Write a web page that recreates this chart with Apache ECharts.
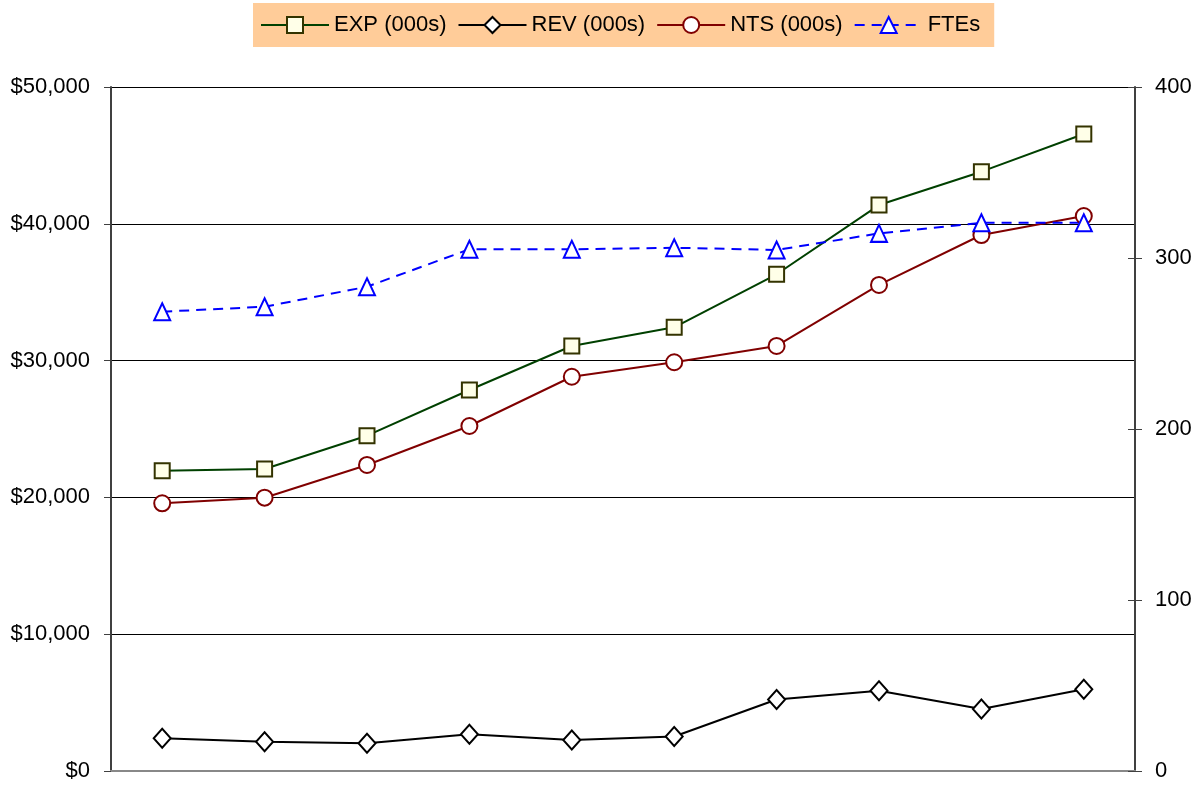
<!DOCTYPE html>
<html>
<head>
<meta charset="utf-8">
<script src="https://cdn.jsdelivr.net/npm/echarts@6/dist/echarts.min.js"></script>
<style>
html,body{margin:0;padding:0;background:#fff;}
#chart{width:1201px;height:788px;}
</style>
</head>
<body>
<div id="chart"></div>
<script>
var categories = ['1','2','3','4','5','6','7','8','9','10'];
var expData = [21950, 22080, 24510, 27850, 31070, 32430, 36310, 41370, 43810, 46560];
var revData = [2390, 2140, 2020, 2680, 2270, 2520, 5230, 5870, 4530, 5970];
var ntsData = [19570, 19980, 22370, 25220, 28820, 29880, 31070, 35530, 39180, 40570];
var fteData = [268.6, 271.5, 283.2, 305.1, 305.1, 306.0, 304.7, 314.4, 320.6, 320.6];
var seriesNames = ['EXP (000s)', 'REV (000s)', 'NTS (000s)', 'FTEs'];

var font = '"Liberation Sans", Arial, sans-serif';
var chart = echarts.init(document.getElementById('chart'));
chart.setOption({
  animation: false,
  backgroundColor: '#ffffff',
  legend: {
    left: 253, top: 3,
    padding: [11, 14, 11, 7],
    backgroundColor: '#FFCC99',
    itemWidth: 68, itemHeight: 20, itemGap: 11,
    textStyle: {fontFamily: font, fontSize: 22, color: '#000'},
    data: seriesNames
  },
  grid: {left: 111, right: 66, top: 87, bottom: 17, containLabel: false},
  xAxis: [{
    type: 'category', data: categories, boundaryGap: true,
    axisLine: {show: true, lineStyle: {color: '#888888', width: 2}},
    axisTick: {show: false}, axisLabel: {show: false}, splitLine: {show: false}
  }, {
    type: 'category', data: categories, position: 'top',
    axisLine: {show: true, lineStyle: {color: '#888888', width: 2}},
    axisTick: {show: false}, axisLabel: {show: false}
  }],
  yAxis: [{
    type: 'value', min: 0, max: 50000, interval: 10000, position: 'left',
    axisLine: {show: true, lineStyle: {color: '#404040', width: 2}},
    axisTick: {show: true, length: 7, lineStyle: {color: '#404040', width: 1}},
    axisLabel: {fontFamily: font, fontSize: 22, color: '#000', margin: 21,
      formatter: function (v) { return '$' + v.toLocaleString('en-US'); }},
    splitLine: {show: true, lineStyle: {color: '#000', width: 1}}
  }, {
    type: 'value', min: 0, max: 400, interval: 100, position: 'right',
    axisLine: {show: true, lineStyle: {color: '#404040', width: 2}},
    axisTick: {show: true, length: 7, lineStyle: {color: '#404040', width: 1}},
    axisLabel: {fontFamily: font, fontSize: 22, color: '#000', margin: 20},
    splitLine: {show: false}
  }, {
    type: 'value', min: 0, max: 400, interval: 100, position: 'right',
    axisLine: {show: false},
    axisTick: {show: true, inside: true, length: 7, lineStyle: {color: '#404040', width: 1}},
    axisLabel: {show: false},
    splitLine: {show: false}
  }],
  series: [{
    name: seriesNames[0], type: 'line', data: expData, yAxisIndex: 0,
    symbol: 'rect', symbolSize: 15,
    lineStyle: {color: '#004000', width: 2},
    itemStyle: {color: '#FFFFE8', borderColor: '#333300', borderWidth: 2}
  }, {
    name: seriesNames[1], type: 'line', data: revData, yAxisIndex: 0,
    symbol: 'diamond', symbolSize: [17, 19],
    lineStyle: {color: '#000000', width: 2},
    itemStyle: {color: '#ffffff', borderColor: '#000000', borderWidth: 2}
  }, {
    name: seriesNames[2], type: 'line', data: ntsData, yAxisIndex: 0,
    symbol: 'circle', symbolSize: 16,
    lineStyle: {color: '#800000', width: 2},
    itemStyle: {color: '#ffffff', borderColor: '#800000', borderWidth: 2}
  }, {
    name: seriesNames[3], type: 'line', data: fteData, yAxisIndex: 1,
    symbol: 'triangle', symbolSize: [16, 17],
    lineStyle: {color: '#0000FF', width: 2, type: [10, 7]},
    itemStyle: {color: '#ffffff', borderColor: '#0000FF', borderWidth: 2}
  }]
});
</script>
</body>
</html>
